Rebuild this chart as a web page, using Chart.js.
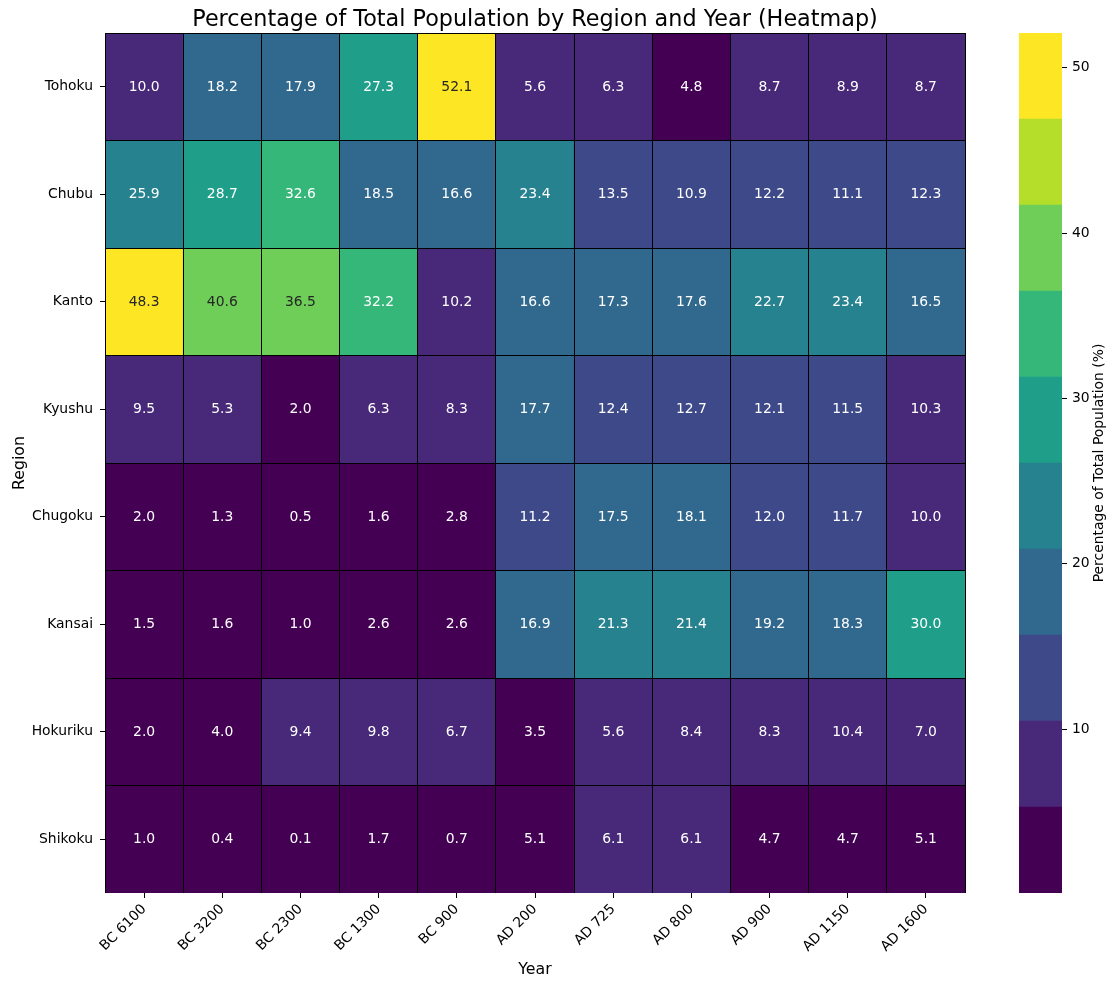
<!DOCTYPE html>
<html><head><meta charset="utf-8">
<script src="https://cdn.jsdelivr.net/npm/chart.js@4.4.0/dist/chart.umd.min.js"></script>
<style>
html,body{margin:0;padding:0;background:#fff;}
#wrap{position:relative;width:1118px;height:989px;}
#main{position:absolute;left:0;top:0;}
#cbar{position:absolute;left:1000px;top:0;}
</style></head><body>
<div id="wrap"><canvas id="main" width="1000" height="989"></canvas><canvas id="cbar" width="118" height="989"></canvas></div>
<script>
const years = ['BC 6100','BC 3200','BC 2300','BC 1300','BC 900','AD 200','AD 725','AD 800','AD 900','AD 1150','AD 1600'];
const regions = ['Tohoku','Chubu','Kanto','Kyushu','Chugoku','Kansai','Hokuriku','Shikoku'];
const tohoku   = [10.0, 18.2, 17.9, 27.3, 52.1, 5.6, 6.3, 4.8, 8.7, 8.9, 8.7];
const chubu    = [25.9, 28.7, 32.6, 18.5, 16.6, 23.4, 13.5, 10.9, 12.2, 11.1, 12.3];
const kanto    = [48.3, 40.6, 36.5, 32.2, 10.2, 16.6, 17.3, 17.6, 22.7, 23.4, 16.5];
const kyushu   = [9.5, 5.3, 2.0, 6.3, 8.3, 17.7, 12.4, 12.7, 12.1, 11.5, 10.3];
const chugoku  = [2.0, 1.3, 0.5, 1.6, 2.8, 11.2, 17.5, 18.1, 12.0, 11.7, 10.0];
const kansai   = [1.5, 1.6, 1.0, 2.6, 2.6, 16.9, 21.3, 21.4, 19.2, 18.3, 30.0];
const hokuriku = [2.0, 4.0, 9.4, 9.8, 6.7, 3.5, 5.6, 8.4, 8.3, 10.4, 7.0];
const shikoku  = [1.0, 0.4, 0.1, 1.7, 0.7, 5.1, 6.1, 6.1, 4.7, 4.7, 5.1];
const values = [tohoku, chubu, kanto, kyushu, chugoku, kansai, hokuriku, shikoku];
const palette = ['#440154','#482878','#3e4989','#31688e','#26828e','#1f9e89','#35b779','#6ece58','#b5de2b','#fde725'];
const cbarTicks = [10, 20, 30, 40, 50];
const titleText = 'Percentage of Total Population by Region and Year (Heatmap)';
const cbarTitle = 'Percentage of Total Population (%)';

Chart.defaults.font.family = "'DejaVu Sans', sans-serif";
Chart.defaults.color = '#000';

const flat = values.flat();
const vmin = Math.min(...flat), vmax = Math.max(...flat);
function colorIndex(v){
  const t = (v - vmin) / (vmax - vmin);
  return Math.max(0, Math.min(palette.length - 1, Math.floor(t * palette.length + 1e-9)));
}
function luminance(hex){
  const rgb = [1,3,5].map(k => parseInt(hex.substr(k,2),16)/255)
    .map(c => c <= 0.03928 ? c/12.92 : Math.pow((c+0.055)/1.055, 2.4));
  return 0.2126*rgb[0] + 0.7152*rgb[1] + 0.0722*rgb[2];
}

const cellLabels = {
  id: 'cellLabels',
  afterDraw(chart){
    const ctx = chart.ctx;
    const a = chart.chartArea;
    ctx.save();
    ctx.font = "13.9px 'DejaVu Sans'";
    ctx.textAlign = 'center';
    ctx.textBaseline = 'middle';
    chart.data.datasets.forEach((ds, i) => {
      chart.getDatasetMeta(i).data.forEach((el, j) => {
        const v = values[i][j];
        const c = palette[colorIndex(v)];
        ctx.fillStyle = luminance(c) > 0.408 ? '#262626' : '#ffffff';
        const p = el.getCenterPoint();
        ctx.fillText(v.toFixed(1), p.x, p.y + 0.5);
      });
    });
    ctx.font = "22.3px 'DejaVu Sans'";
    ctx.fillStyle = '#000';
    ctx.textBaseline = 'alphabetic';
    ctx.fillText(titleText, (a.left + a.right) / 2, a.top - 7);
    ctx.restore();
  }
};

const lineColor = last => ctx => (ctx.index === last ? 'rgba(0,0,0,0)' : '#000');

new Chart(document.getElementById('main'), {
  type: 'bar',
  data: {
    labels: years,
    datasets: regions.map((r, i) => ({
      label: r,
      data: years.map(() => 1),
      backgroundColor: ctx => palette[colorIndex(values[i][ctx.dataIndex])],
      borderWidth: 0,
      barPercentage: 1,
      categoryPercentage: 1
    }))
  },
  options: {
    responsive: false,
    animation: false,
    layout: {padding: {left: 0, right: 35, top: 33, bottom: 0}},
    plugins: {
      legend: {display: false},
      tooltip: {enabled: false},
      title: {display: false}
    },
    scales: {
      x: {
        stacked: true,
        offset: true,
        grid: {offset: false, drawOnChartArea: false, drawTicks: true, tickLength: 5, color: '#000'},
        border: {display: false},
        ticks: {maxRotation: 45, minRotation: 45, font: {size: 13.9}, color: '#000', padding: 3, autoSkip: false},
        title: {display: true, text: 'Year', font: {size: 15.8}, color: '#000', padding: {top: 0, bottom: 10}},
        afterFit: s => { s.height = 96; }
      },
      xCells: {
        type: 'category',
        labels: years,
        position: 'top',
        offset: true,
        grid: {offset: true, drawOnChartArea: true, drawTicks: false, lineWidth: 1, z: 1, color: lineColor(years.length)},
        border: {display: false},
        ticks: {display: false},
        afterFit: s => { s.height = 0; }
      },
      y: {
        stacked: true,
        min: 0,
        max: regions.length,
        reverse: true,
        grid: {drawOnChartArea: false, drawTicks: true, tickLength: 5, color: '#000'},
        border: {display: false},
        afterBuildTicks: s => { s.ticks = regions.map((r, i) => ({value: i + 0.5})); },
        ticks: {callback: (v, i) => regions[i], font: {size: 13.9}, color: '#000', padding: 7, autoSkip: false},
        title: {display: true, text: 'Region', font: {size: 15.8}, color: '#000', padding: {top: 10, bottom: 0}},
        afterFit: s => { s.width = 105; }
      },
      yCells: {
        type: 'linear',
        position: 'right',
        min: 0,
        max: regions.length,
        reverse: true,
        grid: {drawOnChartArea: true, drawTicks: false, lineWidth: 1, z: 1, color: lineColor(regions.length)},
        border: {display: false},
        afterBuildTicks: s => { s.ticks = regions.concat(['']).map((r, i) => ({value: i})); },
        ticks: {display: false},
        afterFit: s => { s.width = 0; }
      }
    }
  },
  plugins: [cellLabels]
});

const edges = palette.map((c, i) => vmin + i * (vmax - vmin) / palette.length).concat([vmax]);
const cbarLabel = {
  id: 'cbarLabel',
  afterDraw(chart){
    const ctx = chart.ctx;
    const a = chart.chartArea;
    ctx.save();
    ctx.font = "13.9px 'DejaVu Sans'";
    ctx.fillStyle = '#000';
    ctx.textAlign = 'center';
    ctx.textBaseline = 'middle';
    ctx.translate(chart.scales.y.right - 18.5, (a.top + a.bottom) / 2);
    ctx.rotate(-Math.PI / 2);
    ctx.fillText(cbarTitle, 0, 0);
    ctx.restore();
  }
};

new Chart(document.getElementById('cbar'), {
  type: 'bar',
  data: {
    labels: [''],
    datasets: palette.map((c, i) => ({
      data: [[edges[i], edges[i + 1]]],
      backgroundColor: c,
      borderWidth: 0,
      barPercentage: 1,
      categoryPercentage: 1,
      grouped: false
    }))
  },
  options: {
    responsive: false,
    animation: false,
    layout: {padding: {left: 19, top: 33, bottom: 96, right: 0}},
    plugins: {legend: {display: false}, tooltip: {enabled: false}},
    scales: {
      x: {display: false},
      y: {
        position: 'right',
        min: vmin,
        max: vmax,
        grid: {drawOnChartArea: false, drawTicks: true, tickLength: 5, color: '#000'},
        border: {display: false},
        afterBuildTicks: s => { s.ticks = cbarTicks.map(v => ({value: v})); },
        ticks: {font: {size: 13.9}, color: '#000', padding: 5},
        afterFit: s => { s.width = 56; }
      }
    }
  },
  plugins: [cbarLabel]
});
</script>
</body></html>
